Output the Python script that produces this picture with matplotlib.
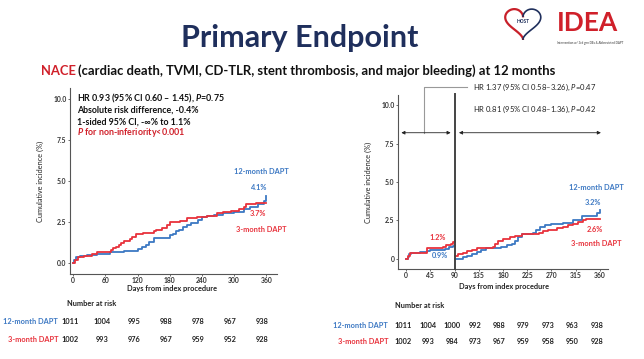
import numpy as np
import matplotlib
matplotlib.use("Agg")
import matplotlib.pyplot as plt

plt.rcParams['font.family'] = ['Lato', 'DejaVu Sans']
plt.rcParams['mathtext.fontset'] = 'custom'
plt.rcParams['mathtext.it'] = 'Lato:italic'
plt.rcParams['mathtext.bf'] = 'Lato:bold:italic'

BLUE = '#3c78c3'
RED = '#e8323c'
NAVY = '#1f2f5c'

# ---- data ----
# full 12-month curves
blue_days = [0, 2, 5, 12, 25, 45, 68, 75, 95, 120, 128, 135, 142, 150, 180, 186, 192, 198,
             205, 212, 220, 232, 240, 250, 262, 280, 300, 318, 330, 345, 356, 360]
blue_vals = [0, 0.2, 0.35, 0.4, 0.5, 0.55, 0.65, 0.7, 0.75, 0.85, 0.95, 1.1, 1.3, 1.55, 1.7,
             1.8, 1.95, 2.05, 2.2, 2.35, 2.45, 2.65, 2.8, 2.9, 2.95, 3.05, 3.15, 3.3, 3.45,
             3.6, 3.8, 4.1]
red_days = [0, 3, 8, 20, 35, 45, 70, 75, 80, 85, 90, 95, 105, 110, 118, 130, 150, 155, 165,
            175, 180, 200, 212, 230, 250, 268, 280, 295, 310, 318, 322, 340, 360]
red_vals = [0, 0.2, 0.35, 0.45, 0.55, 0.7, 0.8, 0.9, 1.0, 1.1, 1.25, 1.35, 1.45, 1.6, 1.75,
            1.85, 1.95, 2.05, 2.15, 2.3, 2.5, 2.6, 2.75, 2.8, 2.85, 3.05, 3.15, 3.2, 3.3,
            3.45, 3.6, 3.7, 3.7]

# landmark analysis, 0-90 days
blue_early_days = [0, 3, 6, 10, 26, 38, 45, 72, 79, 87, 90]
blue_early_vals = [0, 0.15, 0.3, 0.4, 0.45, 0.5, 0.6, 0.65, 0.75, 0.85, 0.9]
red_early_days = [0, 3, 8, 38, 66, 69, 75, 83, 87, 90]
red_early_vals = [0, 0.2, 0.4, 0.7, 0.7, 0.8, 0.9, 1.0, 1.1, 1.2]

# landmark analysis, 90-360 days
blue_late_days = [90, 106, 113, 122, 131, 140, 149, 168, 177, 187, 196, 202, 208, 215, 233,
                  236, 242, 249, 258, 270, 292, 310, 326, 348, 354, 360]
blue_late_vals = [0, 0.1, 0.2, 0.3, 0.45, 0.6, 0.7, 0.7, 0.8, 0.9, 1.0, 1.2, 1.4, 1.6, 1.6,
                  1.7, 1.9, 2.1, 2.2, 2.3, 2.35, 2.5, 2.8, 2.8, 3.0, 3.2]
red_late_days = [90, 97, 106, 113, 122, 131, 156, 162, 165, 171, 180, 193, 202, 215, 242,
                 246, 255, 264, 280, 292, 301, 310, 320, 329, 335, 360]
red_late_vals = [0.2, 0.3, 0.4, 0.5, 0.6, 0.7, 0.7, 0.8, 1.0, 1.2, 1.3, 1.4, 1.5, 1.6, 1.6,
                 1.7, 1.8, 1.9, 2.0, 2.1, 2.2, 2.3, 2.4, 2.5, 2.6, 2.6]

left_ticks = [0, 60, 120, 180, 240, 300, 360]
right_ticks = [0, 45, 90, 135, 180, 225, 270, 315, 360]
risk12_left = [1011, 1004, 995, 988, 978, 967, 938]
risk3_left = [1002, 993, 976, 967, 959, 952, 928]
risk12_right = [1011, 1004, 1000, 992, 988, 979, 973, 963, 938]
risk3_right = [1002, 993, 984, 973, 967, 959, 958, 950, 928]

W, H = 644, 359
fig = plt.figure(figsize=(W / 100, H / 100), dpi=100)


def px(x, y):
    return x / W, 1 - y / H


def style_ax(ax):
    for s in ['top', 'right']:
        ax.spines[s].set_visible(False)
    for s in ['left', 'bottom']:
        ax.spines[s].set_color('#555555')
        ax.spines[s].set_linewidth(0.8)
    ax.tick_params(length=1.5, width=0.6, color='#555555', labelsize=4.9,
                   labelcolor='#333333', pad=1)
    for lab in ax.get_xticklabels() + ax.get_yticklabels():
        lab.set_fontweight('bold')
    ax.set_ylabel('Cumulative incidence (%)', fontsize=5.3, color='#222222', labelpad=7)


# ---- left panel ----
ax1 = fig.add_axes([70 / W, 1 - 274 / H, 207 / W, 186 / H])
ax1.step(blue_days, blue_vals, where='post', color=BLUE, lw=1.3)
ax1.step(red_days, red_vals, where='post', color=RED, lw=1.3)
ax1.set_xlim(-6, 380)
ax1.set_ylim(-0.67, 10.7)
ax1.set_xticks(left_ticks)
ax1.set_yticks([0, 2.5, 5, 7.5, 10])
ax1.set_yticklabels(['0.0', '2.5', '5.0', '7.5', '10.0'])
style_ax(ax1)

tx = 77
fs_hr = 6.4
fig.text(*px(tx, 98), r'HR 0.93 (95% CI 0.60 – 1.45), $\mathbf{P}$=0.75', fontsize=fs_hr,
         fontweight='bold', va='center', color='#111111')
fig.text(*px(tx, 110), 'Absolute risk difference, -0.4%', fontsize=fs_hr,
         fontweight='bold', va='center', color='#111111')
fig.text(*px(tx, 122), '1-sided 95% CI, -∞% to 1.1%', fontsize=fs_hr,
         fontweight='bold', va='center', color='#111111')
fig.text(*px(tx, 133), r'$\mathbf{P}$ for non-inferiority<0.001', fontsize=fs_hr,
         fontweight='bold', va='center', color='#d0202a')

fig.text(*px(261, 171), '12-month DAPT', fontsize=5.3, fontweight='bold', color=BLUE,
         ha='center', va='center')
fig.text(*px(259, 188), '4.1%', fontsize=5.3, fontweight='bold', color=BLUE,
         ha='center', va='center')
fig.text(*px(258, 213), '3.7%', fontsize=5.3, fontweight='bold', color=RED,
         ha='center', va='center')
fig.text(*px(261, 229), '3-month DAPT', fontsize=5.3, fontweight='bold', color=RED,
         ha='center', va='center')

# ---- right panel ----
ax2 = fig.add_axes([398 / W, 1 - 269 / H, 210 / W, 174 / H])
ax2.step(blue_early_days, blue_early_vals, where='post', color=BLUE, lw=1.3)
ax2.step(red_early_days, red_early_vals, where='post', color=RED, lw=1.3)
ax2.step(blue_late_days, blue_late_vals, where='post', color=BLUE, lw=1.3)
ax2.step(red_late_days, red_late_vals, where='post', color=RED, lw=1.3)
ax2.set_xlim(-15, 375)
ax2.set_ylim(-0.65, 10.65)
ax2.set_xticks(right_ticks)
ax2.set_yticks([0, 2.5, 5, 7.5, 10])
ax2.set_yticklabels(['0', '2.5', '5.0', '7.5', '10.0'])
style_ax(ax2)

ax2.plot([90, 90], [-0.65, 10.7], color='#444444', lw=1.4, clip_on=False, zorder=3)
arrow_y = 8.2
akw = dict(arrowstyle='<|-|>', color='#222222', lw=0.6, mutation_scale=5)
ax2.annotate('', xy=(-14, arrow_y), xytext=(88, arrow_y), arrowprops=akw,
             annotation_clip=False)
ax2.annotate('', xy=(93, arrow_y), xytext=(367, arrow_y), arrowprops=akw,
             annotation_clip=False)
ax2.plot([33, 33, 113], [arrow_y, 11.15, 11.15], color='#999999', lw=0.8, clip_on=False)

fig.text(*px(473, 87), r'HR 1.37 (95% CI 0.58–3.26), $\mathit{P}$=0.47', fontsize=5.5,
         va='center', color='#222222')
fig.text(*px(473, 109), r'HR 0.81 (95% CI 0.48–1.36), $\mathit{P}$=0.42', fontsize=5.5,
         va='center', color='#222222')

fig.text(*px(596, 187), '12-month DAPT', fontsize=5.3, fontweight='bold', color=BLUE,
         ha='center', va='center')
fig.text(*px(593, 202), '3.2%', fontsize=5.3, fontweight='bold', color=BLUE,
         ha='center', va='center')
fig.text(*px(595, 230), '2.6%', fontsize=5.3, fontweight='bold', color=RED,
         ha='center', va='center')
fig.text(*px(596, 244), '3-month DAPT', fontsize=5.3, fontweight='bold', color=RED,
         ha='center', va='center')
fig.text(*px(438, 237), '1.2%', fontsize=5.3, fontweight='bold', color=RED,
         ha='center', va='center')
fig.text(*px(440, 256), '0.9%', fontsize=5.3, fontweight='bold', color=BLUE,
         ha='center', va='center')

# ---- x labels and number at risk ----
for cx, cy in [(172, 288), (504, 287)]:
    fig.text(*px(cx, cy), 'Days from index procedure', fontsize=5.3, fontweight='bold',
             ha='center', va='center', color='#222222')
fig.text(*px(67, 304), 'Number at risk', fontsize=5.3, fontweight='bold', va='center',
         color='#222222')
fig.text(*px(395, 305), 'Number at risk', fontsize=5.3, fontweight='bold', va='center',
         color='#222222')

fig.text(*px(58, 321), '12-month DAPT', fontsize=5.3, fontweight='bold', color=BLUE,
         ha='right', va='center')
fig.text(*px(58, 339), '3-month DAPT', fontsize=5.3, fontweight='bold', color=RED,
         ha='right', va='center')
fig.text(*px(388, 325), '12-month DAPT', fontsize=5.3, fontweight='bold', color=BLUE,
         ha='right', va='center')
fig.text(*px(388, 342), '3-month DAPT', fontsize=5.3, fontweight='bold', color=RED,
         ha='right', va='center')

left_cols = [70, 102, 134, 166, 198, 230, 262]
for x, a, b in zip(left_cols, risk12_left, risk3_left):
    fig.text(*px(x, 321), str(a), fontsize=5.3, fontweight='bold', ha='center',
             va='center', color='#222222')
    fig.text(*px(x, 339), str(b), fontsize=5.3, fontweight='bold', ha='center',
             va='center', color='#222222')
right_cols = [403, 428, 452, 475, 499, 523, 548, 572, 597]
for x, a, b in zip(right_cols, risk12_right, risk3_right):
    fig.text(*px(x, 325), str(a), fontsize=5.3, fontweight='bold', ha='center',
             va='center', color='#222222')
    fig.text(*px(x, 342), str(b), fontsize=5.3, fontweight='bold', ha='center',
             va='center', color='#222222')

# ---- titles ----
fig.text(*px(300, 38), 'Primary Endpoint', fontsize=22, fontweight='bold', color=NAVY,
         ha='center', va='center')
r = fig.canvas.get_renderer()
t1 = fig.text(*px(41, 71), 'NACE', fontsize=9.4, fontweight='bold', color='#d0202a',
              va='center')
bb = t1.get_window_extent(r)
fig.text(bb.x1 / W + 2 / W, 1 - 71 / H,
         '(cardiac death, TVMI, CD-TLR, stent thrombosis, and major bleeding) at 12 months',
         fontsize=9.4, fontweight='bold', color='#111111', va='center')

# ---- logo ----
lax = fig.add_axes([503 / W, 1 - 40 / H, 40 / W, 32 / H])
t = np.linspace(0, np.pi, 100)
hx = 16 * np.sin(t) ** 3
hy = 13 * np.cos(t) - 5 * np.cos(2 * t) - 2 * np.cos(3 * t) - np.cos(4 * t)
lax.plot(-hx, hy, color='#c8202a', lw=1.6)
lax.plot(hx, hy, color=NAVY, lw=1.2)
lax.text(0, 0, 'HOST', fontsize=3.5, fontweight='bold', color=NAVY, ha='center',
         va='center')
lax.set_xlim(-18, 18)
lax.set_ylim(-18, 13)
lax.axis('off')
fig.text(*px(557, 23), 'IDEA', fontsize=19, fontweight='bold', color='#d0202a',
         va='center')
fig.text(*px(557, 43), 'Intervention w/ 3rd gen DEs & Abbreviated DAPT', fontsize=2.2,
         color='#333333', va='center')

fig.savefig('out.png', dpi=100)
